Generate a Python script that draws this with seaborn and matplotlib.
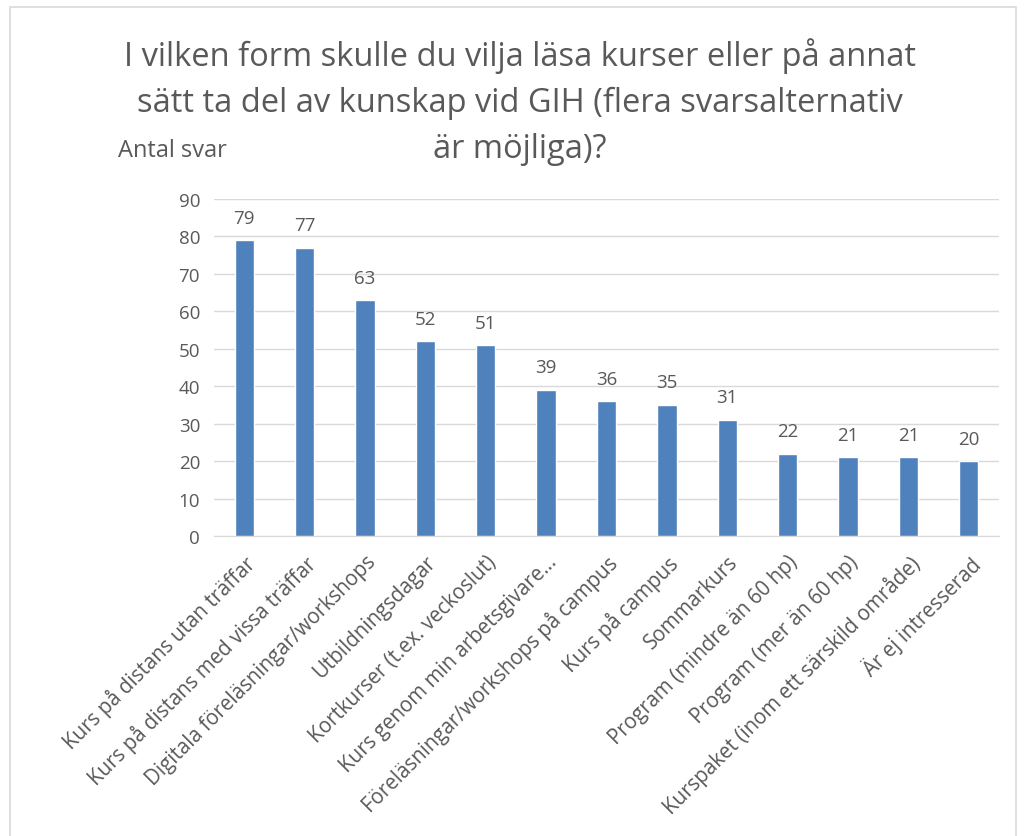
import numpy as np
import pandas as pd
import matplotlib.pyplot as plt
import matplotlib.patches as patches
import seaborn as sns

categories = ['Kurs på distans utan träffar', 'Kurs på distans med vissa träffar',
              'Digitala föreläsningar/workshops', 'Utbildningsdagar',
              'Kortkurser (t.ex. veckoslut)', 'Kurs genom min arbetsgivare…',
              'Föreläsningar/workshops på campus', 'Kurs på campus', 'Sommarkurs',
              'Program (mindre än 60 hp)', 'Program (mer än 60 hp)',
              'Kurspaket (inom ett särskild område)', 'Är ej intresserad']
antal = [79, 77, 63, 52, 51, 39, 36, 35, 31, 22, 21, 21, 20]
yticks = [0, 10, 20, 30, 40, 50, 60, 70, 80, 90]
title_lines = ['I vilken form skulle du vilja läsa kurser eller på annat',
               'sätt ta del av kunskap vid GIH (flera svarsalternativ',
               'är möjliga)?']

sns.set_style('white')
plt.rcParams['font.family'] = ['Open Sans', 'DejaVu Sans']
grey = '#595959'

df = pd.DataFrame({'kategori': categories, 'antal': antal})

fig = plt.figure(figsize=(10.25, 8.37), dpi=100)
ax = fig.add_axes([214/1025, 1-537/837, (999-214)/1025, (537-200)/837])
sns.barplot(data=df, x='kategori', y='antal', color='#4F81BD', saturation=1, width=0.32, ax=ax, zorder=3)

ax.set_ylim(0, 90)
ax.set_yticks(yticks)
ax.set_yticklabels([str(t) for t in yticks], fontsize=13.5, color=grey)
ax.yaxis.grid(True, color='#D9D9D9', linewidth=1, zorder=0)
ax.set_axisbelow(True)
for s in ['top', 'right', 'left']:
    ax.spines[s].set_visible(False)
ax.spines['bottom'].set_color('#D9D9D9')
ax.tick_params(axis='both', length=0, pad=10)
ax.set_xlabel('')
ax.set_ylabel('')
ax.set_xticks(range(len(categories)))
ax.set_xticklabels(categories, rotation=45, ha='right', rotation_mode='anchor', fontsize=14.8, color=grey)
ax.tick_params(axis='x', pad=11)

for i, v in enumerate(antal):
    ax.text(i, v + 3.6, str(v), ha='center', va='bottom', fontsize=13.5, color=grey)

# title drawn line by line (centred, like the Excel chart)
for k, line in enumerate(title_lines):
    fig.text(0.507, 1-(56+47*k)/837, line, ha='center', va='center', fontsize=23.5, color=grey)
fig.text(118/1025, 1-151/837, 'Antal svar', ha='left', va='center', fontsize=17, color=grey)

fig.patches.append(patches.Rectangle((10/1025, -0.05), 1006/1025, 1.05-8/837, transform=fig.transFigure,
                                     fill=False, edgecolor='#D9D9D9', linewidth=1.2))

plt.savefig('out.png', dpi=100)
